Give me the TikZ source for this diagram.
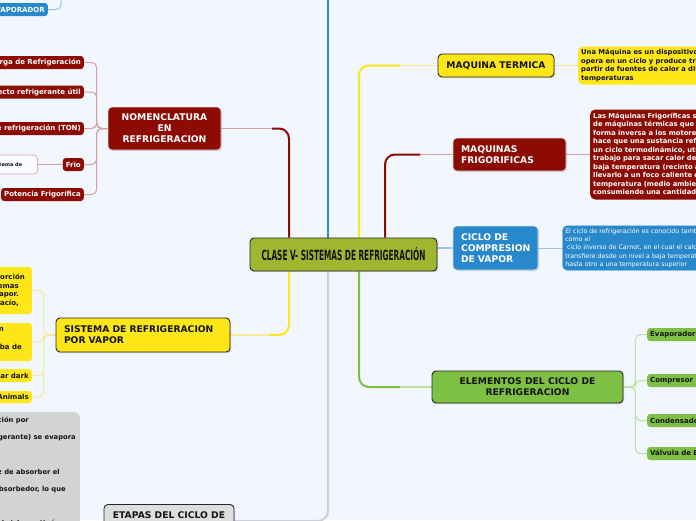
\documentclass[tikz,border=0pt]{standalone}
\usepackage{fontspec}
\usepackage{graphicx}
\setmainfont{DejaVu Sans}
\newfontfamily\condfont{DejaVu Sans Condensed}
\usetikzlibrary{shadows}
\pgfdeclarelayer{back}
\pgfdeclarelayer{bg}
\pgfsetlayers{back,bg,main}
\definecolor{bgc}{RGB}{242,246,254}
\definecolor{yel}{RGB}{255,230,24}
\definecolor{dred}{RGB}{140,12,4}
\definecolor{blu}{RGB}{40,136,204}
\definecolor{grn}{RGB}{125,192,67}
\definecolor{oliv}{RGB}{160,182,46}
\definecolor{gbox}{RGB}{211,211,211}
\definecolor{etap}{RGB}{222,222,222}
\definecolor{txt}{RGB}{20,20,20}
\definecolor{lyel}{RGB}{248,234,150}
\definecolor{lred}{RGB}{214,160,160}
\definecolor{lblu}{RGB}{150,196,234}
\definecolor{lgrn}{RGB}{190,225,160}
\definecolor{lgray}{RGB}{205,208,214}
\tikzset{
  topic/.style={rounded corners=4pt, inner sep=0pt, text=txt,
    font=\bfseries\fontsize{9.2}{11}\selectfont,
    drop shadow={shadow xshift=1pt, shadow yshift=-1.2pt, opacity=0.3}},
  darkedge/.style={draw=black!85, line width=0.9pt},
  lightedge/.style={draw=white!75!gray, line width=0.6pt},
  sub/.style={rounded corners=3pt, inner xsep=3pt, inner ysep=0pt, minimum height=13pt, text=txt,
    font=\bfseries\fontsize{7}{8.6}\selectfont},
  para/.style={rounded corners=5pt, inner xsep=3pt, inner ysep=0pt, align=left, text=txt,
    font=\bfseries\fontsize{6.8}{8.4}\selectfont},
  branch/.style={line width=2pt, rounded corners=10pt},
  twig/.style={line width=1pt, rounded corners=5pt},
}
\begin{document}
\begin{tikzpicture}[x=1pt,y=-1pt]
\useasboundingbox (0,0) rectangle (696,520);
\begin{pgfonlayer}{back}
\fill[bgc] (0,0) rectangle (696,520);
\end{pgfonlayer}
\clip (0,0) rectangle (696,520);

% central
\node[topic, darkedge, fill=oliv, minimum width=187pt, minimum height=33pt] (c) at (343.5,254.5)
  {\condfont\resizebox{164pt}{13pt}{CLASE V- SISTEMAS DE REFRIGERACIÓN}};

% maquina termica
\node[topic, darkedge, fill=yel, minimum width=116pt, minimum height=23pt] (mt) at (496,65.5) {MAQUINA TERMICA};
\node[para, fill=yel, anchor=west, minimum height=38pt, text width=250pt] (mtx) at (578,65.5)
  {Una Máquina es un dispositivo que\\opera en un ciclo y produce trabajo a\\partir de fuentes de calor a diferentes\\temperaturas};

% maquinas frigorificas
\node[topic, lightedge, fill=dred, text=white, minimum width=113pt, minimum height=33pt, text width=97pt, align=left] (mf) at (509.5,154.5) {MAQUINAS\\FRIGORIFICAS};
\node[para, fill=dred, text=white, anchor=west, minimum height=90pt, text width=250pt, font=\bfseries\fontsize{6.8}{8.5}\selectfont] (mfx) at (590,154.5)
  {Las Máquinas Frigoríficas son un tipo\\de máquinas térmicas que funcionan de\\forma inversa a los motores térmicos,\\hace que una sustancia refrigerante recorra\\un ciclo termodinámico, utilizando\\trabajo para sacar calor de un foco de\\baja temperatura (recinto a refrigerar) y\\llevarlo a un foco caliente de alta\\temperatura (medio ambiente),\\consumiendo una cantidad de trabajo};

% ciclo de compresion
\node[topic, lightedge, fill=blu, text=white, minimum width=85pt, minimum height=44pt, text width=69pt, align=left] (cc) at (495.5,248) {CICLO DE\\COMPRESION\\DE VAPOR};
\node[para, fill=blu, draw=white!55!blu, line width=0.5pt, text=white, anchor=west, minimum height=45pt, text width=250pt, font=\fontsize{6.3}{8.4}\selectfont] (ccx) at (562,248)
  {El ciclo de refrigeración es conocido también\\como el\\\hspace*{1.8pt}ciclo inverso de Carnot, en el cual el calor se\\transfiere desde un nivel a baja temperatura\\hasta otro a una temperatura superior};

% elementos
\node[topic, darkedge, fill=grn, minimum width=191pt, minimum height=32pt, align=center] (el) at (527.5,387) {ELEMENTOS DEL CICLO DE\\REFRIGERACION};
\node[sub, fill=grn, anchor=west, text width=70pt, align=left] (e1) at (647,334.5) {Evaporador};
\node[sub, fill=grn, anchor=west, text width=70pt, align=left] (e2) at (647,380.5) {Compresor};
\node[sub, fill=grn, anchor=west, text width=70pt, align=left] (e3) at (647,420.5) {Condensador};
\node[sub, fill=grn, anchor=west, text width=120pt, align=left] (e4) at (647,453.5) {Válvula de Expansión};

% nomenclatura
\node[topic, lightedge, fill=dred, text=white, minimum width=113pt, minimum height=43pt, align=center] (nom) at (164.5,128.5) {NOMENCLATURA\\EN\\REFRIGERACION};
\node[sub, fill=dred, text=white, anchor=east] (n1) at (84,62.5) {Carga de Refrigeración};
\node[sub, fill=dred, text=white, anchor=east] (n2) at (84,92) {Efecto refrigerante útil};
\node[sub, fill=dred, text=white, anchor=east] (n3) at (84,128.5) {Tonelada de refrigeración (TON)};
\node[sub, fill=dred, text=white, anchor=east] (n4) at (84,164.5) {Frio};
\node[sub, fill=dred, text=white, anchor=east] (n5) at (84,194.5) {Potencia Frigorífica};
\node[sub, fill=white!60!bgc, draw=lred, line width=0.7pt, anchor=east, minimum height=19pt, rounded corners=4pt, text width=60pt, align=left, font=\bfseries\fontsize{5}{6}\selectfont] (fc) at (38,164.5) {Es un sistema de};

% evaporador (top)
\node[sub, fill=blu, text=white, anchor=east] (ev) at (48,9.5) {EVAPORADOR};

% sistema de refrigeracion por vapor
\node[topic, darkedge, fill=yel, minimum width=174pt, minimum height=34pt, text width=158pt, align=left] (sv) at (143,335) {SISTEMA DE REFRIGERACION\\POR VAPOR};
\node[sub, fill=yel, anchor=east, minimum height=47pt, align=right] (s1) at (32,290.5)
  {Refrigeración por absorción\kern4pt\\similar a los sistemas\kern10pt\\de compresión de vapor.\kern10pt\\Trabaja al vacío,\kern10pt};
\node[sub, fill=yel, anchor=east, minimum height=38pt, align=right] (s2) at (32,342)
  {Sistema de refrigeración en\kern25pt\\\mbox{}\\empleando una bomba de\kern7pt\\\mbox{}};
\node[sub, fill=yel, anchor=east] (s3) at (32,375.5) {Solar dark};
\node[sub, fill=yel, anchor=east, minimum height=12pt] (s4) at (32,397) {Animals};

% gray text box
\node[fill=gbox, rounded corners=5pt, anchor=north east, inner xsep=4pt, inner ysep=4.5pt, align=right, text=txt,
  font=\bfseries\fontsize{6.8}{17.3}\selectfont] (gx) at (80,412)
  {La refrigeración por\kern47pt\\el líquido (refrigerante) se evapora\\\mbox{}\\el cual es capaz de absorber el\kern16pt\\vapor en el absorbedor, lo que\kern10pt\\\mbox{}\\permite que el ciclo continúe\kern16pt};

% etapas
\node[topic, darkedge, fill=etap, minimum width=130pt, minimum height=33pt, align=center, anchor=north] (et) at (169,504) {ETAPAS DEL CICLO DE\\REFRIGERACION};

% coordinates
\coordinate (xa) at (289,0);
\coordinate (xb) at (328,0);
\coordinate (xc) at (359,0);
\coordinate (xd) at (385,0);
\coordinate (topB) at (328,-10);
\coordinate (evT) at (61,-10);
\coordinate (nomK) at (272,128.5);
\coordinate (mtK) at (400,65.5);
\coordinate (mfK) at (420,154.5);
\coordinate (svK) at (270,335);
\coordinate (elK) at (400,387);

\begin{pgfonlayer}{bg}
% main branches
\draw[blu, line width=2pt] (c.north -| topB) -- (topB);
\draw[lred, line width=1.3pt] (nom.east) -- (nomK);
\draw[dred, branch] (c.north -| xa) |- (nomK);
\draw[lyel, line width=1.3pt] (mtK) -- (mt.west);
\draw[yel, branch] (c.north -| xc) |- (mtK);
\draw[lred, line width=1.3pt] (mfK) -- (mf.west);
\draw[dred, branch] (c.north -| xd) |- (mfK);
\draw[lblu, line width=1.3pt] (cc.west -| c.east) -- (cc.west);
\draw[lyel, line width=1.3pt] (sv.east) -- (svK);
\draw[yel, branch] (c.south -| xa) |- (svK);
\draw[lgray, branch] (c.south -| xb) |- (et.east);
\draw[lgrn, line width=1.3pt] (elK) -- (el.west);
\draw[grn, branch] (c.south -| xc) |- (elK);
% twigs
\draw[lblu, twig] (ev.east) -| (evT);
\draw[lyel, twig] (mt.east) -- (mtx.west);
\draw[lred, twig] (mf.east) -- (mfx.west);
\draw[lblu, twig] (cc.east) -- (ccx.west);
\foreach \n in {e1,e2,e3,e4} \draw[lgrn, twig] (el.east) -- ++(12,0) |- (\n.west);
\foreach \n in {n1,n2,n3,n4,n5} \draw[lred, twig] (nom.west) -- ++(-11,0) |- (\n.east);
\draw[lred, twig] (n4.west) -- (fc.east);
\foreach \n in {s1,s2,s3,s4} \draw[lyel, twig] (sv.west) -- ++(-12,0) |- (\n.east);
\end{pgfonlayer}
\end{tikzpicture}
\end{document}
